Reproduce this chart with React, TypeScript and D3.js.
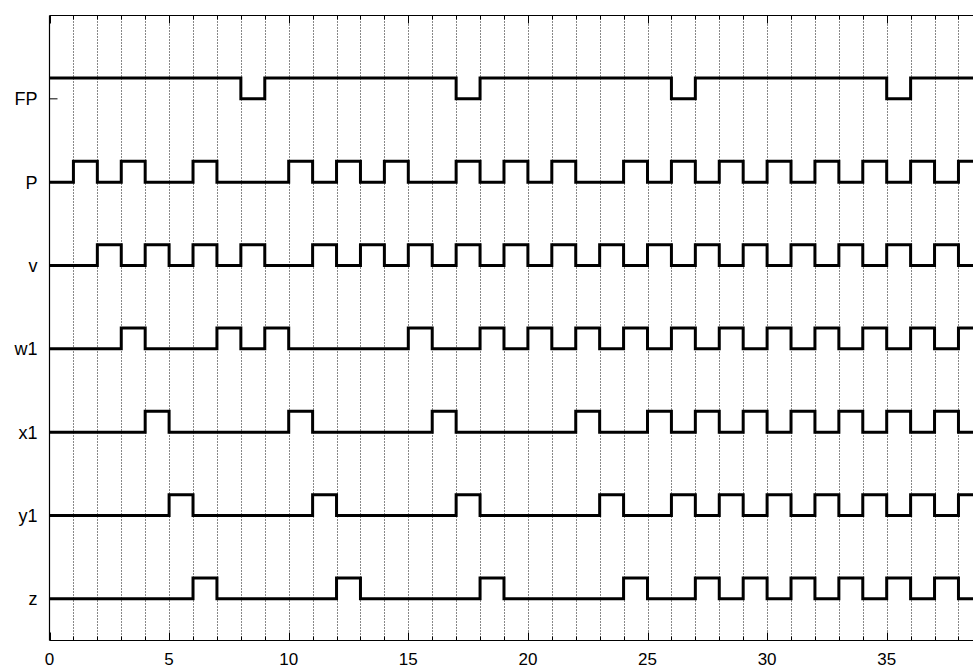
import React, { useRef, useEffect } from 'react';
import * as d3 from 'd3';

// signal names, top to bottom
const signalNames = ["FP", "P", "v", "w1", "x1", "y1", "z"];

// value on [t, t+1) for t = 0..38
const FP = [1,1,1,1,1,1,1,1,0,1, 1,1,1,1,1,1,1,0,1,1, 1,1,1,1,1,1,0,1,1,1, 1,1,1,1,1,0,1,1,1];
const P  = [0,1,0,1,0,0,1,0,0,0, 1,0,1,0,1,0,0,1,0,1, 0,1,0,0,1,0,1,0,1,0, 1,0,1,0,1,0,1,0,1];
const v  = [0,0,1,0,1,0,1,0,1,0, 0,1,0,1,0,1,0,1,0,1, 0,1,0,1,0,1,0,1,0,1, 0,1,0,1,0,1,0,1,0];
const w1 = [0,0,0,1,0,0,0,1,0,1, 0,0,0,0,0,1,0,0,1,0, 1,0,1,0,1,0,1,0,1,0, 1,0,1,0,1,0,1,0,1];
const x1 = [0,0,0,0,1,0,0,0,0,0, 1,0,0,0,0,0,1,0,0,0, 0,0,1,0,0,1,0,1,0,1, 0,1,0,1,0,1,0,1,0];
const y1 = [0,0,0,0,0,1,0,0,0,0, 0,1,0,0,0,0,0,1,0,0, 0,0,0,1,0,0,1,0,1,0, 1,0,1,0,1,0,1,0,1];
const z  = [0,0,0,0,0,0,1,0,0,0, 0,0,1,0,0,0,0,0,1,0, 0,0,0,0,1,0,0,1,0,1, 0,1,0,1,0,1,0,1,0];

const signals = [FP, P, v, w1, x1, y1, z];
const xTickLabels = [0, 5, 10, 15, 20, 25, 30, 35];

function TimingChart() {
  const svgRef = useRef<SVGSVGElement>(null);

  useEffect(() => {
    const svg = d3.select(svgRef.current);
    svg.selectAll("*").remove();

    const width = 973;
    const height = 670;
    const left = 49.5, top = 15.5, bottom = 640.5;
    const pxPerUnit = 23.92;
    const xMax = 40;

    const x = d3.scaleLinear().domain([0, xMax]).range([left, left + xMax * pxPerUnit]);
    const y = d3.scaleLinear().domain([0, 7.5]).range([bottom, top]);
    const amp = 0.25;
    const n = signalNames.length;
    const baseOf = (i: number) => n - 1 - i + 0.5;

    svg.attr("width", width).attr("height", height);
    const font = "'Liberation Sans', Arial, Helvetica, sans-serif";

    // dotted grid at every integer
    const gridVals = d3.range(1, xMax);
    svg.append("g")
      .selectAll("line")
      .data(gridVals)
      .enter()
      .append("line")
      .attr("x1", d => Math.round(x(d)) + 0.5)
      .attr("x2", d => Math.round(x(d)) + 0.5)
      .attr("y1", top)
      .attr("y2", bottom)
      .attr("stroke", "#111")
      .attr("stroke-width", 1)
      .attr("stroke-dasharray", "1,2");

    // x ticks, inward, bottom and top
    const ticks = svg.append("g").attr("stroke", "#000").attr("stroke-width", 1);
    d3.range(0, xMax).forEach(d => {
      const len = d % 5 === 0 ? 8 : 4;
      const xx = Math.round(x(d)) + 0.5;
      ticks.append("line").attr("x1", xx).attr("x2", xx).attr("y1", bottom).attr("y2", bottom - len);
      ticks.append("line").attr("x1", xx).attr("x2", xx).attr("y1", top).attr("y2", top + len);
    });

    // frame
    svg.append("line").attr("x1", left).attr("x2", width).attr("y1", top).attr("y2", top)
      .attr("stroke", "#000").attr("stroke-width", 1.2);
    svg.append("line").attr("x1", left).attr("x2", width).attr("y1", bottom).attr("y2", bottom)
      .attr("stroke", "#000").attr("stroke-width", 1.2);
    svg.append("line").attr("x1", left).attr("x2", left).attr("y1", top).attr("y2", bottom)
      .attr("stroke", "#000").attr("stroke-width", 1.2);

    // y ticks + labels
    signalNames.forEach((name, i) => {
      const yy = y(baseOf(i));
      svg.append("line").attr("x1", left).attr("x2", left + 8).attr("y1", yy).attr("y2", yy)
        .attr("stroke", "#000").attr("stroke-width", 1);
      svg.append("text")
        .attr("x", left - 12)
        .attr("y", yy)
        .attr("dy", "0.36em")
        .attr("text-anchor", "end")
        .style("font-family", font)
        .style("font-size", "18px")
        .text(name);
    });

    // x labels
    svg.append("g")
      .selectAll("text")
      .data(xTickLabels)
      .enter()
      .append("text")
      .attr("x", d => x(d))
      .attr("y", 665)
      .attr("text-anchor", "middle")
      .style("font-family", font)
      .style("font-size", "17px")
      .text(d => d);

    // signals as step lines
    const line = d3.line<[number, number]>()
      .x(d => x(d[0]))
      .y(d => y(d[1]))
      .curve(d3.curveStepAfter);

    signals.forEach((vals, i) => {
      const pts: [number, number][] = vals.map((s, t) => [t, baseOf(i) + amp * s]);
      pts.push([xMax, baseOf(i) + amp * vals[vals.length - 1]]);
      svg.append("path")
        .attr("d", line(pts))
        .attr("fill", "none")
        .attr("stroke", "#000")
        .attr("stroke-width", 3)
        .attr("stroke-linejoin", "miter");
    });
  }, []);

  return <svg ref={svgRef} style={{ position: "absolute", left: 0, top: 0 }}></svg>;
}

export default function App() {
  return <TimingChart />;
}
